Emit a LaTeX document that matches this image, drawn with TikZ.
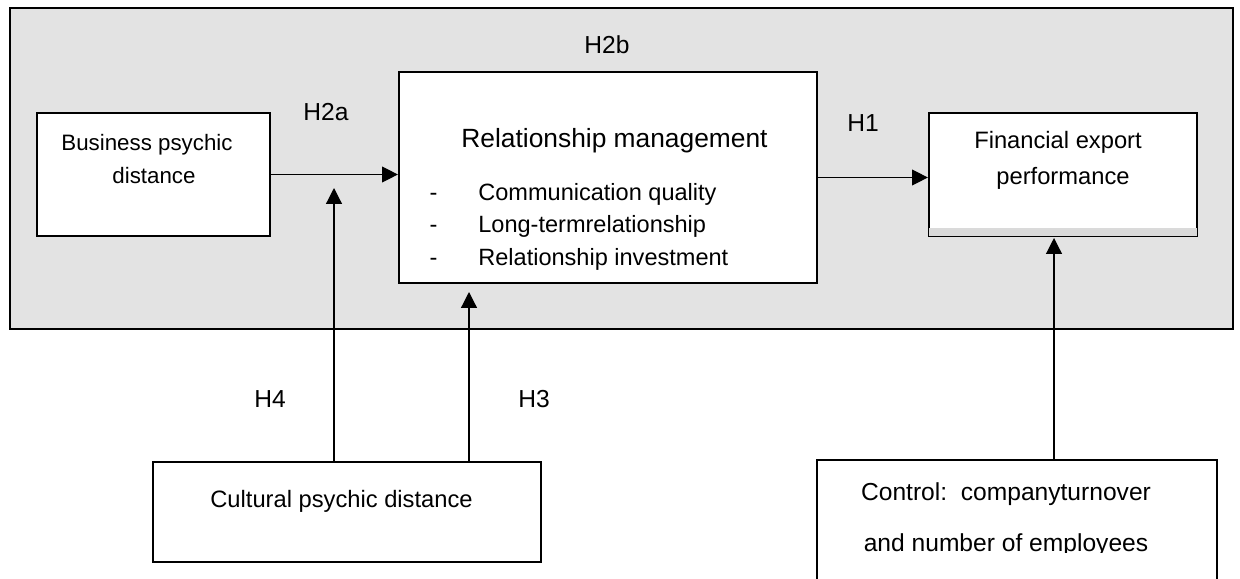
\documentclass[tikz,border=0pt]{standalone}
\usepackage{fontspec}
\setmainfont{Liberation Sans}
\usetikzlibrary{arrows.meta}
\definecolor{panelgray}{HTML}{E3E3E3}
\definecolor{stripgray}{HTML}{DADADA}

\begin{document}
\begin{tikzpicture}[x=0.02cm, y=-0.02cm,
    box/.style={draw, line width=1.3pt, fill=white, inner sep=0pt},
    txt/.style={inner sep=0pt, anchor=base, font=\fontsize{13.5}{16}\selectfont},
    hyp/.style={inner sep=0pt, anchor=base, font=\fontsize{14}{17}\selectfont},
    arr/.style={line width=0.7pt, -{Triangle[length=9pt,width=9pt]}}]
    \useasboundingbox (0,0) rectangle (1240,578);

    % grey panel
    \draw[fill=panelgray, line width=1.2pt] (10,8) rectangle (1233,329);

    % Boxes
    \node[box, minimum width=4.66cm, minimum height=2.46cm] (bpd) at (153.5,174.5) {};
    \node[box, minimum width=8.36cm, minimum height=4.22cm] (rm) at (608,177.5) {};
    \node[box, minimum width=5.36cm, minimum height=2.46cm] (fin) at (1063,174.5) {};
    \node[box, minimum width=7.76cm, minimum height=2.0cm] (cpd) at (347,512) {};
    \node[box, minimum width=8.0cm, minimum height=2.8cm] (ctl) at (1017,530) {};
    \fill[stripgray] ([shift={(0.65pt,0.65pt)}]fin.south west) rectangle ([shift={(-0.65pt,5.1pt)}]fin.south east);

    % Box texts
    \node[txt, font=\fontsize{12.7}{15}\selectfont] (bpd1) at (147,150) {Business psychic};
    \node[txt, font=\fontsize{12.7}{15}\selectfont] (bpd2) at (154,183) {distance};
    \node[txt, font=\fontsize{15}{18}\selectfont] (rmtitle) at (614.5,147) {Relationship management};
    \foreach \item [count=\i] in {Communication quality, Long-termrelationship, Relationship investment} {
        \node[txt, font=\fontsize{13.4}{16}\selectfont] (dash\i) at (433.5,{200+32.5*(\i-1)}) {-};
        \node[txt, anchor=base west, font=\fontsize{13.4}{16}\selectfont] (rmitem\i) at (478,{200+32.5*(\i-1)}) {\item};
    }
    \node[txt] (fin1) at (1058,148) {Financial export};
    \node[txt] (fin2) at (1063,184) {performance};
    \node[txt] (cpdtxt) at (341.5,507) {Cultural psychic distance};
    \node[hyp] (ctl1) at (1006,500) {Control:\ \ companyturnover};
    \begin{scope}
        \clip (817,440) rectangle (1217,552);
        \node[hyp] (ctl2) at (1006,551) {and number of employees};
    \end{scope}

    % Hypothesis labels
    \node[hyp] (h2a) at (326,120) {H2a};
    \node[hyp] (h2b) at (607,53) {H2b};
    \node[hyp] (h1) at (863,131) {H1};
    \node[hyp] (h4) at (270,407) {H4};
    \node[hyp] (h3) at (534,407) {H3};

    % Paths
    \coordinate (modtip) at (334,188);
    \coordinate (rmtip) at (469,292);
    \coordinate (fintip) at (1054,238);
    \draw[arr] (bpd.east) -- (bpd.east -| rm.west);
    \draw[arr] (rm.east) -- (rm.east -| fin.west);
    \draw[arr] (cpd.north -| modtip) -- (modtip);
    \draw[arr] (cpd.north -| rmtip) -- (rmtip);
    \draw[arr] (ctl.north -| fintip) -- (fintip);
\end{tikzpicture}
\end{document}
